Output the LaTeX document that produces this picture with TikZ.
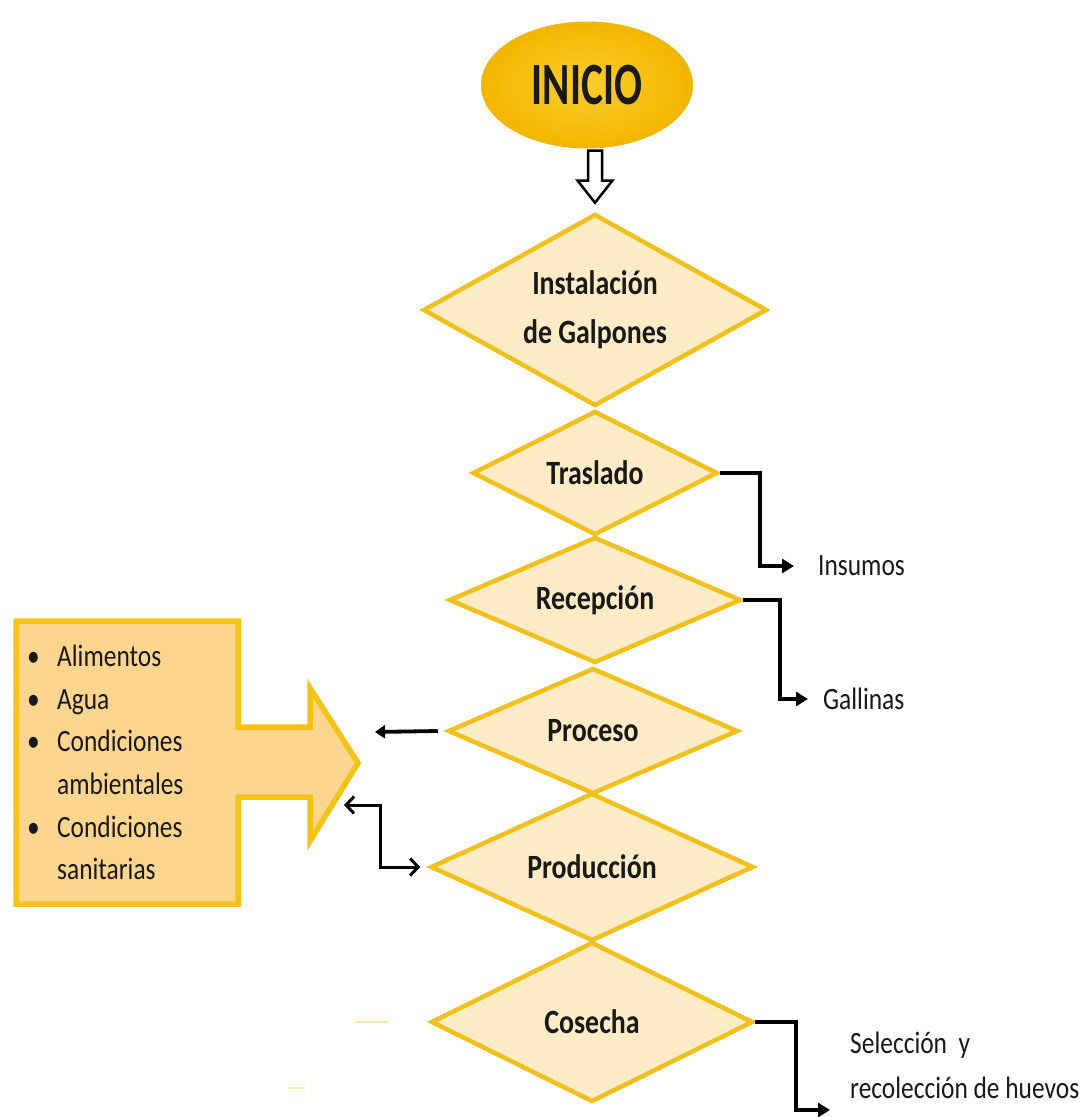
\documentclass[tikz,border=0pt]{standalone}
\usepackage{fontspec}
\setmainfont[FakeStretch=0.82]{Carlito}
\newfontfamily\inifont[FakeStretch=0.69]{Carlito}
\usetikzlibrary{shapes.geometric,arrows.meta,calc}
\definecolor{dfill}{RGB}{253,236,198}
\definecolor{dline}{RGB}{242,192,28}
\definecolor{bfill}{RGB}{252,213,142}
\definecolor{bline}{RGB}{245,194,24}
\definecolor{gin}{RGB}{251,206,45}
\definecolor{gout}{RGB}{242,182,0}
\definecolor{txt}{RGB}{25,25,25}
\begin{document}
\begin{tikzpicture}[x=1pt,y=-1pt,
  dia/.style={diamond, aspect=2, inner sep=0pt, draw=dline, fill=dfill, line width=4.5pt,
    text=txt, font=\fontsize{34}{49}\selectfont\bfseries, align=center},
  lbl/.style={inner sep=0pt, text=txt, font=\fontsize{31}{44}\selectfont, align=left},
  elbow/.style={line width=3.8pt, line join=miter, -{Triangle[length=12pt,width=14pt]}},
  dbl/.style={line width=3pt, line join=miter, {Straight Barb[length=8pt,width=17pt]}-{Straight Barb[length=8pt,width=17pt]}},
  blockarr/.style={line width=2.5pt, draw=black, fill=white, line join=miter}]
\useasboundingbox (0,0) rectangle (1082,1117);
\fill[white] (0,0) rectangle (1082,1117);

% start ellipse
\node[ellipse, minimum width=211pt, minimum height=126pt, inner sep=0pt,
  shading=radial, inner color=gin, outer color=gout, draw=gout, line width=1pt,
  text=txt, font=\inifont\bfseries\fontsize{60}{60}\selectfont] (ini) at (587,85) {INICIO};

% diamonds
\node[dia, minimum width=344pt, minimum height=192pt] (inst) at (595,310) {Instalación\\de Galpones};
\node[dia, minimum width=245pt, minimum height=124pt] (tras) at (595,473) {Traslado};
\node[dia, minimum width=292pt, minimum height=126pt] (rece) at (595,600) {Recepción};
\node[dia, minimum width=290pt, minimum height=126pt] (proc) at (593,731) {Proceso};
\node[dia, minimum width=323pt, minimum height=148pt] (prod) at (592,867) {Producción};
\node[dia, minimum width=322pt, minimum height=160pt] (cose) at (592,1022) {Cosecha};

% hollow block arrow
\draw[blockarr] ($(ini.south -| inst.north)+(-7,2)$) -- ++(14,0) -- ++(0,30) -- ++(10.5,0)
  -- ($(inst.north)+(0,-9)$) -- ($(ini.south -| inst.north)+(-17.5,32)$) -- ++(10.5,0) -- cycle;

% input box with block arrow
\draw[line width=5.5pt, draw=bline, fill=bfill, line join=miter]
  (16,621) -- (238,621) -- (238,727) -- (310,727) -- (310,688) -- (358,763)
  -- (310,841) -- (310,797) -- (238,797) -- (238,904) -- (16,904) -- cycle;
\node[lbl, anchor=north west, font=\fontsize{31}{42.6}\selectfont] (inputs) at (27,645)
  {\makebox[30pt][l]{•}Alimentos\\
   \makebox[30pt][l]{•}Agua\\
   \makebox[30pt][l]{•}Condiciones\\
   \hspace*{30pt}ambientales\\
   \makebox[30pt][l]{•}Condiciones\\
   \hspace*{30pt}sanitarias};

% right labels
\node[lbl, anchor=west] (ins) at (818,566) {Insumos};
\node[lbl, anchor=west] (gal) at (823,699) {Gallinas};
\node[lbl, anchor=north west, font=\fontsize{31}{45}\selectfont] (sel) at (850,1032)
  {Selección\ \ y\\recolección de huevos};
\coordinate (selend) at (830,1110);
\coordinate (procend) at (375,732);
\coordinate (fb) at (344,805);

% connectors
\draw[elbow] (tras.east) -- ++(40,0) |- ([xshift=-24pt]ins.west);
\draw[elbow] (rece.east) -- ++(37,0) |- ([xshift=-15pt]gal.west);
\draw[elbow] (cose.east) -- ++(41,0) |- (selend);
\draw[line width=3.8pt, -{Triangle[length=10pt,width=13pt]}] ([xshift=-8pt]proc.west) -- (procend);
\draw[dbl] (fb) -- ++(36,0) |- ([xshift=-8pt]prod.west);

% faint remnants at lower left
\draw[draw=bline!40, line width=2pt] (355,1022) -- (388,1022);
\draw[draw=bline!30, line width=2pt] (288,1088) -- (305,1088);
\end{tikzpicture}
\end{document}
